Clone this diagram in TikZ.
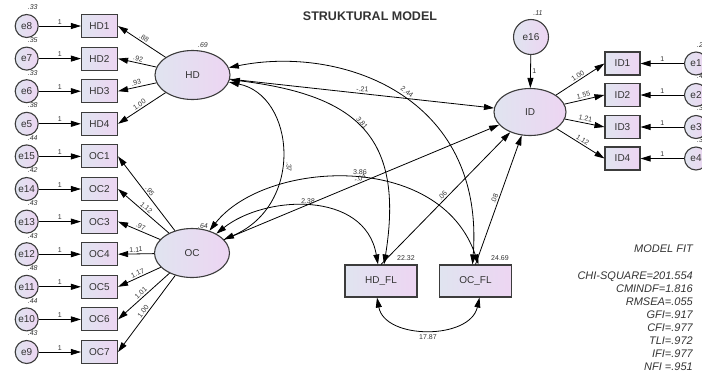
\documentclass[tikz,border=0pt]{standalone}
\usepackage{fontspec}
\setmainfont{Liberation Sans}
\usetikzlibrary{arrows.meta, positioning, shapes.geometric}
\definecolor{amosblue}{HTML}{E0E4F0}
\definecolor{amospink}{HTML}{EDD5F2}
\definecolor{amosline}{HTML}{3C3C3C}
\definecolor{amostext}{HTML}{333333}

\begin{document}
\begin{tikzpicture}[x=1pt, y=-1pt,
        latent/.style={ellipse, draw=amosline, line width=1.1pt, left color=amosblue, right color=amospink, minimum width=75pt, minimum height=49pt, inner sep=0pt, text=amostext, font=\fontsize{10}{12}\selectfont},
        observed/.style={rectangle, draw=amosline, line width=1.1pt, left color=amosblue, right color=amospink, minimum width=36pt, minimum height=23pt, inner sep=0pt, text=amostext, font=\fontsize{10}{12}\selectfont},
        err/.style={circle, draw=amosline, line width=1.1pt, left color=amosblue, right color=amospink, minimum size=23pt, inner sep=0pt, text=amostext, font=\fontsize{10}{12}\selectfont},
        line/.style={draw, -{Triangle[length=10pt, width=6pt]}, line width=0.8pt},
        cov/.style={draw, {Triangle[length=10pt, width=6pt]}-{Triangle[length=10pt, width=6pt]}, line width=0.8pt},
        lbl/.style={text=amostext, inner sep=1.5pt, font=\fontsize{7}{8}\selectfont},
        var/.style={lbl, font=\itshape\fontsize{7}{8}\selectfont},
        fit/.style={text=amostext, inner sep=0pt, font=\itshape\fontsize{11}{13}\selectfont}]
        \useasboundingbox (0,0) rectangle (702,376);

        \node [text=amostext, font=\bfseries\fontsize{12.5}{14}\selectfont] (title) at (370,16) {STRUKTURAL MODEL};

        % HD indicators
        \node [observed] (HD1) at (99.5,26) {HD1};
        \node [observed] (HD2) at (99.5,58.6) {HD2};
        \node [observed] (HD3) at (99.5,91.2) {HD3};
        \node [observed] (HD4) at (99.5,123.8) {HD4};
        \node [err] (e8) at (26.7,26) {e8};
        \node [err] (e7) at (26.7,58.6) {e7};
        \node [err] (e6) at (26.7,91.2) {e6};
        \node [err] (e5) at (26.7,123.8) {e5};

        % OC indicators
        \node [observed] (OC1) at (99.5,156.4) {OC1};
        \node [observed] (OC2) at (99.5,189) {OC2};
        \node [observed] (OC3) at (99.5,221.6) {OC3};
        \node [observed] (OC4) at (99.5,254.2) {OC4};
        \node [observed] (OC5) at (99.5,286.8) {OC5};
        \node [observed] (OC6) at (99.5,319.4) {OC6};
        \node [observed] (OC7) at (99.5,352) {OC7};
        \node [err] (e15) at (26.7,156.4) {e15};
        \node [err] (e14) at (26.7,189) {e14};
        \node [err] (e13) at (26.7,221.6) {e13};
        \node [err] (e12) at (26.7,254.2) {e12};
        \node [err] (e11) at (26.7,286.8) {e11};
        \node [err] (e10) at (26.7,319.4) {e10};
        \node [err] (e9) at (26.7,352) {e9};

        % latent variables
        \node [latent] (HD) at (192.5,75) {HD};
        \node [latent] (OC) at (192,253) {OC};
        \node [latent, minimum width=72pt, minimum height=47pt] (ID) at (530,112) {ID};
        \node [err, minimum size=35pt] (e16) at (531,37) {e16};

        % ID indicators
        \node [observed, minimum width=35pt] (ID1) at (622.5,63.5) {ID1};
        \node [observed, minimum width=35pt] (ID2) at (622.5,95) {ID2};
        \node [observed, minimum width=35pt] (ID3) at (622.5,127) {ID3};
        \node [observed, minimum width=35pt] (ID4) at (622.5,158.5) {ID4};
        \node [err] (e1) at (696,63.5) {e1};
        \node [err] (e2) at (696,95) {e2};
        \node [err] (e3) at (696,127) {e3};
        \node [err] (e4) at (696,158.5) {e4};

        % mediators
        \node [observed, minimum width=72pt, minimum height=32pt] (HDFL) at (381,281) {HD\_FL};
        \node [observed, minimum width=72pt, minimum height=32pt] (OCFL) at (475.5,281) {OC\_FL};

        % variances
        \node [var] at ([shift={(6,-18.5)}]e8.center) {.33};
        \node [var] at ([shift={(6,-18.5)}]e7.center) {.35};
        \node [var] at ([shift={(6,-18.5)}]e6.center) {.33};
        \node [var] at ([shift={(6,-18.5)}]e5.center) {.38};
        \node [var] at ([shift={(6,-18.5)}]e15.center) {.44};
        \node [var] at ([shift={(6,-18.5)}]e14.center) {.42};
        \node [var] at ([shift={(6,-18.5)}]e13.center) {.43};
        \node [var] at ([shift={(6,-18.5)}]e12.center) {.43};
        \node [var] at ([shift={(6,-18.5)}]e11.center) {.48};
        \node [var] at ([shift={(6,-18.5)}]e10.center) {.44};
        \node [var] at ([shift={(6,-18.5)}]e9.center) {.43};
        \node [var] at ([shift={(6,-18.5)}]e1.center) {.25};
        \node [var] at ([shift={(6,-18.5)}]e2.center) {.47};
        \node [var] at ([shift={(6,-18.5)}]e3.center) {.33};
        \node [var] at ([shift={(6,-18.5)}]e4.center) {.34};
        \node [var] at (203,45) {.69};
        \node [var] at (203,226) {.64};
        \node [var] at (538,13) {.11};
        \node [lbl] at (406,258) {22.32};
        \node [lbl] at (500,258) {24.69};

        % error paths
        \path [line] (e8) -- node [lbl, above] {1} (HD1);
        \path [line] (e7) -- node [lbl, above] {1} (HD2);
        \path [line] (e6) -- node [lbl, above] {1} (HD3);
        \path [line] (e5) -- node [lbl, above] {1} (HD4);
        \path [line] (e15) -- node [lbl, above] {1} (OC1);
        \path [line] (e14) -- node [lbl, above] {1} (OC2);
        \path [line] (e13) -- node [lbl, above] {1} (OC3);
        \path [line] (e12) -- node [lbl, above] {1} (OC4);
        \path [line] (e11) -- node [lbl, above] {1} (OC5);
        \path [line] (e10) -- node [lbl, above] {1} (OC6);
        \path [line] (e9) -- node [lbl, above] {1} (OC7);
        \path [line] (e1) -- node [lbl, above] {1} (ID1);
        \path [line] (e2) -- node [lbl, above] {1} (ID2);
        \path [line] (e3) -- node [lbl, above] {1} (ID3);
        \path [line] (e4) -- node [lbl, above] {1} (ID4);
        \path [line] (e16) -- node [lbl, right] {1} (ID);

        % loadings
        \path [line] (HD) -- node [lbl, sloped, above] {.88} (HD1.east);
        \path [line] (HD) -- node [lbl, sloped, above] {.92} (HD2.east);
        \path [line] (HD) -- node [lbl, sloped, above] {.93} (HD3.east);
        \path [line] (HD) -- node [lbl, sloped, above] {1.00} (HD4.east);
        \path [line] (OC) -- node [lbl, sloped, above] {.95} (OC1.east);
        \path [line] (OC) -- node [lbl, sloped, above] {1.12} (OC2.east);
        \path [line] (OC) -- node [lbl, sloped, above] {.97} (OC3.east);
        \path [line] (OC) -- node [lbl, sloped, above] {1.11} (OC4.east);
        \path [line] (OC) -- node [lbl, sloped, above] {1.17} (OC5.east);
        \path [line] (OC) -- node [lbl, sloped, above] {1.01} (OC6.east);
        \path [line] (OC) -- node [lbl, sloped, above] {1.00} (OC7.east);
        \path [line] (ID) -- node [lbl, sloped, above] {1.00} (ID1.west);
        \path [line] (ID) -- node [lbl, sloped, above] {1.55} (ID2.west);
        \path [line] (ID) -- node [lbl, sloped, above] {1.21} (ID3.west);
        \path [line] (ID) -- node [lbl, sloped, above] {1.12} (ID4.west);

        % structural paths
        \path [line] (HD) -- node [lbl, sloped, above] {-.21} (ID);
        \path [line] (OC) -- node [lbl, sloped, above, pos=.5] {-.04} (ID);
        \path [line] (HDFL.north) -- node [lbl, sloped, above] {.06} (ID);
        \path [line] (OCFL.north) -- node [lbl, sloped, above] {.08} (ID);

        % covariances
        \path [cov] (HD) .. controls (295,95) and (305,205) .. (OC);
        \path [cov] (HD) .. controls (355,95) and (405,135) .. ([xshift=3pt]HDFL.north);
        \path [cov] (HD) .. controls (340,45) and (485,95) .. ([xshift=-3pt]OCFL.north);
        \path [cov] (OC) .. controls (265,195) and (365,190) .. ([xshift=-3pt]HDFL.north);
        \path [cov] (OC) .. controls (265,160) and (440,150) .. ([xshift=3pt]OCFL.north);
        \path [cov] ([xshift=-4pt]HDFL.south) .. controls (385,340) and (470,340) .. ([xshift=4pt]OCFL.south);
        \node [lbl, rotate=-90] at (289,167) {.37};
        \node [lbl, rotate=-50] at (362,123) {3.81};
        \node [lbl, rotate=-37] at (407,92) {2.44};
        \node [lbl, rotate=-3] at (308,201) {2.38};
        \node [lbl, rotate=-2] at (360,172) {3.86};
        \node [lbl] at (428,337) {17.87};

        % model fit
        \node [fit, anchor=east] (fithead) at (693,249) {MODEL FIT};
        \node [fit, anchor=north east, align=right] (fitlist) at (693,271.5) {CHI-SQUARE=201.554\\CMINDF=1.816\\RMSEA=.055\\GFI=.917\\CFI=.977\\TLI=.972\\IFI=.977\\NFI =.951};
    \end{tikzpicture}
\end{document}
